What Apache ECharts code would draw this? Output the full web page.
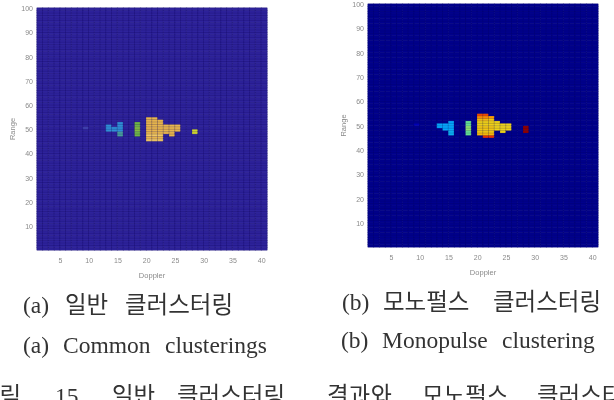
<!DOCTYPE html>
<html>
<head>
<meta charset="utf-8">
<style>html,body{margin:0;padding:0;background:#fff}#c{width:614px;height:400px}</style>
<script src="https://cdn.jsdelivr.net/npm/echarts@6/dist/echarts.min.js"></script>
</head>
<body>
<div id="c"></div>
<script>
// Range-Doppler cluster maps. Each run: [doppler bin, first range bin, level per range bin going up].
const commonRuns = [
  [9, 51, 0.9],
  [13, 50, 2, 2, 2],
  [14, 50, 2, 2],
  [15, 48, 2.4, 2.4, 2, 2, 2, 2],
  [18, 48, 3, 3, 3.2, 3.2, 3, 3],
  [20, 46, 6, 5.4, 6, 5.4, 5.4, 5.4, 5.4, 5.4, 5.4, 5.4],
  [21, 46, 6, 5.4, 6, 5.4, 5.4, 5.4, 5.4, 5.4, 5.4, 5.4],
  [22, 46, 6, 5.4, 6, 5.4, 5.4, 5.4, 5.4, 5.4, 5.4],
  [23, 49, 5.4, 5.4, 5.4, 5.4],
  [24, 48, 5.4, 5.4, 5.4, 5.4, 5.4],
  [25, 50, 5.4, 5.4, 5.4],
  [28, 49, 4, 4]
];
const monopulseRuns = [
  [9, 51, 0.05],
  [13, 50, 0.3, 0.3],
  [14, 49, 0.3, 0.3, 0.3],
  [15, 47, 0.32, 0.32, 0.3, 0.3, 0.3, 0.3],
  [18, 47, 0.47, 0.47, 0.5, 0.5, 0.47, 0.47],
  [20, 47, 0.66, 0.63, 0.63, 0.63, 0.61, 0.61, 0.66, 0.74, 0.82],
  [21, 46, 0.86, 0.66, 0.63, 0.63, 0.63, 0.61, 0.61, 0.66, 0.74, 0.82],
  [22, 46, 0.86, 0.66, 0.63, 0.63, 0.63, 0.61, 0.61, 0.63, 0.72],
  [23, 49, 0.6, 0.6, 0.6, 0.6],
  [24, 48, 0.6, 0.6, 0.6, 0.6],
  [25, 49, 0.6, 0.6, 0.6],
  [28, 48, 1, 1, 1]
];
const dopplerTicks = [5, 10, 15, 20, 25, 30, 35, 40];
const rangeTicks = [10, 20, 30, 40, 50, 60, 70, 80, 90, 100];
const dopplerBins = Array.from({length: 40}, (_, i) => String(i + 1));
const rangeBins = Array.from({length: 100}, (_, i) => String(i + 1));
const commonColors = ['#2e239c', '#4348b2', '#2f8fd6', '#6fb548', '#cfd62e', '#e2aa3e', '#f1c964'];
const monopulseColors = ['#00008c', '#0000ff', '#00a0ff', '#30e0c0', '#e8e020', '#ffa000', '#e83000', '#900000'];
const captionWords = [
  ['(a)', 23, 307], ['일반', 65, 307], ['클러스터링', 125, 307],
  ['(a)', 23, 347], ['Common', 63, 347], ['clusterings', 165, 347],
  ['(b)', 342, 304], ['모노펄스', 383, 304], ['클러스터링', 493, 304],
  ['(b)', 341, 342], ['Monopulse', 382, 342], ['clustering', 502, 342],
  ['그림', -22, 398], ['15.', 55, 398], ['일반', 112, 398], ['클러스터링', 177, 398],
  ['결과와', 327, 398], ['모노펄스', 422, 398], ['클러스터링', 537, 398]
];

// Expands the column runs onto the full bin grid.
function toCells(runs) {
  const levels = {};
  runs.forEach(([d, start, ...vals]) => vals.forEach((v, i) => { levels[d + '_' + (start + i)] = v; }));
  const cells = [];
  dopplerBins.forEach((d, x) => rangeBins.forEach((r, y) => {
    cells.push([x, y, levels[d + '_' + r] || 0]);
  }));
  return cells;
}

const labelStyle = {color: '#8a8a8a', fontSize: 7, fontFamily: 'Liberation Sans'};
const nameStyle = {color: '#8a8a8a', fontSize: 7.5, fontFamily: 'Liberation Sans'};

function panelAxes(idx) {
  return {
    x: {
      type: 'category', gridIndex: idx, data: dopplerBins, name: 'Doppler', nameLocation: 'middle', nameGap: 22,
      nameTextStyle: nameStyle, axisLine: {show: false}, axisTick: {show: false}, splitLine: {show: false},
      axisLabel: Object.assign({
        margin: 8, padding: [0, 5, 0, 0],
        interval: (i, v) => dopplerTicks.includes(Number(v))
      }, labelStyle)
    },
    y: {
      type: 'category', gridIndex: idx, data: rangeBins, name: 'Range', nameLocation: 'middle', nameGap: 17,
      nameTextStyle: nameStyle, nameRotate: 90, axisLine: {show: false}, axisTick: {show: false}, splitLine: {show: false},
      axisLabel: Object.assign({
        margin: 4, padding: [3, 0, 0, 0],
        interval: (i, v) => rangeTicks.includes(Number(v))
      }, labelStyle)
    }
  };
}

const left = panelAxes(0), right = panelAxes(1);
const cellStyle = (c) => ({borderColor: c, borderWidth: 0.3});

const chart = echarts.init(document.getElementById('c'), null, {renderer: 'canvas'});
chart.setOption({
  animation: false,
  backgroundColor: '#fff',
  grid: [
    {left: 37, top: 8, width: 230, height: 242, borderColor: '#b8b8d8', borderWidth: 1, show: true},
    {left: 368, top: 4, width: 230, height: 243, borderColor: '#b8b8d8', borderWidth: 1, show: true}
  ],
  xAxis: [left.x, right.x],
  yAxis: [left.y, right.y],
  visualMap: [
    {show: false, seriesIndex: 0, min: 0, max: 6, inRange: {color: commonColors}},
    {show: false, seriesIndex: 1, min: 0, max: 1, inRange: {color: monopulseColors}}
  ],
  series: [
    {type: 'heatmap', xAxisIndex: 0, yAxisIndex: 0, data: toCells(commonRuns), progressive: 0,
      itemStyle: cellStyle('rgba(18,12,90,0.7)'), emphasis: {disabled: true}},
    {type: 'heatmap', xAxisIndex: 1, yAxisIndex: 1, data: toCells(monopulseRuns), progressive: 0,
      itemStyle: cellStyle('rgba(0,0,90,0.6)'), emphasis: {disabled: true}}
  ],
  graphic: captionWords.map(([text, x, y]) => ({
    type: 'text', x, y, silent: true,
    style: {text, fill: '#333', font: '23.5px "Liberation Serif","Noto Sans CJK KR"', textVerticalAlign: 'middle'}
  }))
});
</script>
</body>
</html>
